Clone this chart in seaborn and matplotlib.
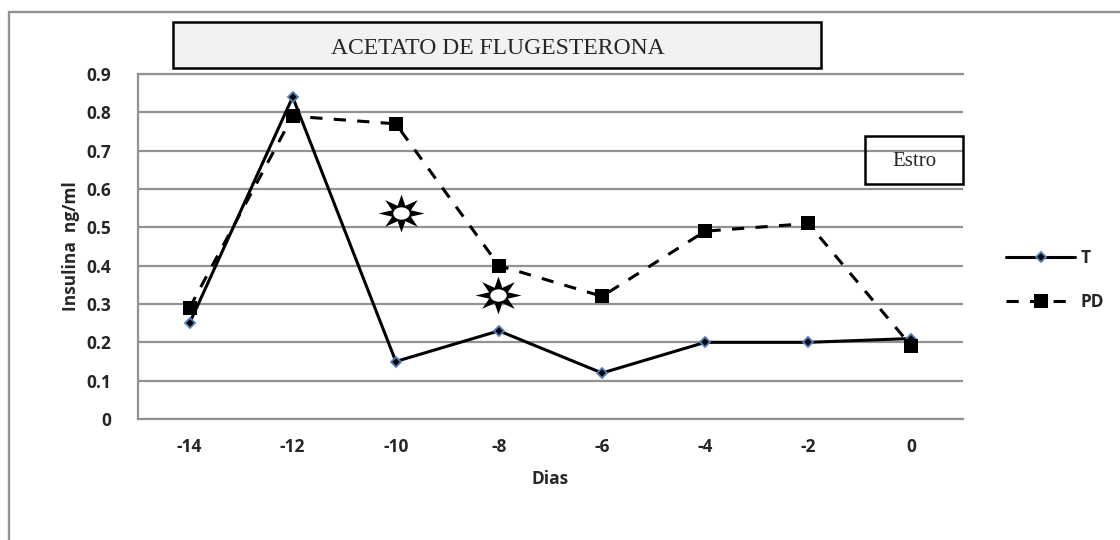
import pandas as pd
import seaborn as sns
import matplotlib.pyplot as plt
from matplotlib.path import Path
from matplotlib.patches import Rectangle
from matplotlib.transforms import Affine2D

dias = ['-14', '-12', '-10', '-8', '-6', '-4', '-2', '0']
t_vals = [0.25, 0.84, 0.15, 0.23, 0.12, 0.20, 0.20, 0.21]
pd_vals = [0.29, 0.79, 0.77, 0.40, 0.32, 0.49, 0.51, 0.19]
y_ticks = [0, 0.1, 0.2, 0.3, 0.4, 0.5, 0.6, 0.7, 0.8, 0.9]
y_labels = ['0', '0.1', '0.2', '0.3', '0.4', '0.5', '0.6', '0.7', '0.8', '0.9']
star_x = [2.05, 2.99]
star_y = [0.537, 0.323]

W, H = 1120, 540
GREY = '#929292'

sns.set_theme(style='white')
plt.rcParams['font.family'] = ['Open Sans', 'DejaVu Sans']

df = pd.DataFrame({
    'Dias': dias * 2,
    'Insulina': t_vals + pd_vals,
    'Grupo': ['T'] * len(dias) + ['PD'] * len(dias),
})

fig = plt.figure(figsize=(W / 100, H / 100), dpi=100)
ax = fig.add_axes([138 / W, 1 - 419 / H, 825 / W, 345 / H])
ax.set_axisbelow(True)

# outer chart border, only top and left are visible in the crop
fig.add_artist(Rectangle((8.5 / W, -0.02), 1.1, 1.02 - 12 / H, transform=fig.transFigure,
                         fill=False, edgecolor=GREY, linewidth=1.7))

sns.lineplot(data=df, x='Dias', y='Insulina', hue='Grupo', style='Grupo',
             palette={'T': 'black', 'PD': 'black'},
             dashes={'T': '', 'PD': (4, 3.7)},
             markers={'T': 'D', 'PD': 's'},
             linewidth=2.2, ax=ax, legend=False, sort=False, zorder=3)

for line, size, edge in zip(ax.lines[:2], [5.5, 9.5], ['#4f81bd', 'black']):
    line.set_markersize(size)
    line.set_markerfacecolor('black')
    line.set_markeredgecolor(edge)
    line.set_markeredgewidth(1.3 if edge != 'black' else 0)

ax.set_xlim(-0.5, 7.5)
ax.set_ylim(0, 0.9)
ax.set_yticks(y_ticks, y_labels)
ax.grid(axis='y', color=GREY, linewidth=1.6)
ax.tick_params(length=0, labelsize=12.5, pad=19)
ax.tick_params(axis='x', pad=14)
for lab in ax.get_xticklabels() + ax.get_yticklabels():
    lab.set_fontweight('bold')
ax.set_xlabel('Dias', fontsize=12.5, fontweight='bold', labelpad=10)
ax.set_ylabel('Insulina  ng/ml', fontsize=12.5, fontweight='bold', labelpad=5)

for side in ['top', 'left', 'bottom']:
    ax.spines[side].set_color(GREY)
    ax.spines[side].set_linewidth(1.6)
ax.spines['right'].set_visible(False)

# stars marking the significant days
squash = Affine2D().scale(1, 0.82)
star = Path.unit_regular_star(8, innerCircle=0.44).transformed(squash)
hole = Path.unit_circle().transformed(Affine2D().scale(1, 0.75))
ax.scatter(star_x, star_y, marker=star, s=1100, color='black', linewidths=0, zorder=4)
ax.scatter(star_x, star_y, marker=hole, s=140, color='white', linewidths=0, zorder=5)

# title and Estro boxes
fig.add_artist(Rectangle((173 / W, 1 - 68 / H), 648 / W, 46 / H, transform=fig.transFigure,
                         facecolor='#f2f2f2', edgecolor='black', linewidth=1.8, zorder=6))
fig.text(498 / W, 1 - 49 / H, 'ACETATO DE FLUGESTERONA', family='Liberation Serif',
         fontsize=17, ha='center', va='center', zorder=7)
# no fill here, the 0.7 gridline runs through the box
fig.add_artist(Rectangle((865 / W, 1 - 184 / H), 98 / W, 48 / H, transform=fig.transFigure,
                         fill=False, edgecolor='black', linewidth=1.8, zorder=6))
fig.text(914 / W, 1 - 161 / H, 'Estro', family='Liberation Serif',
         fontsize=15, ha='center', va='center', zorder=7)

# legend
handles = [
    plt.Line2D([], [], color='black', linewidth=2.2, marker='D', markersize=5.5,
               markerfacecolor='black', markeredgecolor='#4f81bd', markeredgewidth=1.3),
    plt.Line2D([], [], color='black', linewidth=2.2, linestyle=(0, (4, 3.7)), marker='s',
               markersize=9.5, markerfacecolor='black', markeredgewidth=0),
]
leg = ax.legend(handles, ['T', 'PD'], frameon=False, loc='center left',
                bbox_to_anchor=(1006 / W, 1 - 280 / H), bbox_transform=fig.transFigure,
                prop={'weight': 'bold', 'size': 12.5}, handlelength=4.0, labelspacing=1.5,
                handletextpad=0.3, borderpad=0, borderaxespad=0)

fig.savefig('out.png', dpi=100, facecolor='white')
